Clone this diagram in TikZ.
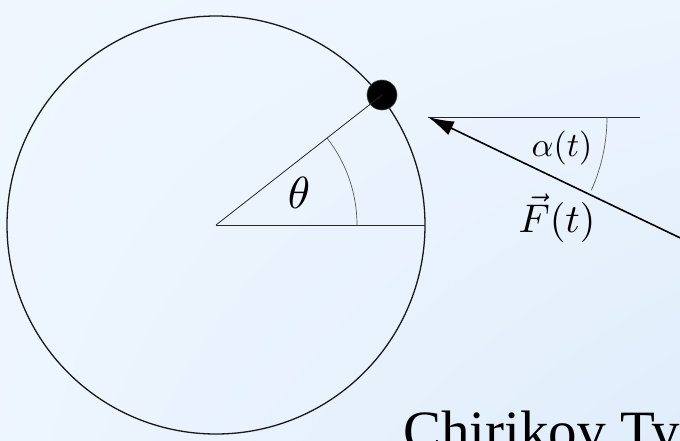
\documentclass[tikz,border=0pt]{standalone}
\usepackage{fontspec}
\newfontfamily\titlefont{Liberation Serif}
\usetikzlibrary{arrows.meta,shadings}
\definecolor{bgA}{HTML}{EFF6FE}
\definecolor{bgB}{HTML}{E0EDFB}
\tikzset{
  thinline/.style={line width=0.8pt, black!85},
  anglearc/.style={line width=0.7pt, black!65},
  ringline/.style={line width=1.3pt, black!90},
  forceline/.style={line width=1.6pt, black, -{Latex[length=26pt,width=15pt]}},
  massdot/.style={circle, fill=black, draw=black!70, line width=0.6pt, minimum size=30pt, inner sep=0pt},
  lbl/.style={inner sep=0pt}
}
\begin{document}
\begin{tikzpicture}[x=1pt,y=-1pt]
\useasboundingbox (0,0) rectangle (680,440);
\shade[upper left=bgA, upper right=bgA!80!bgB, lower left=bgA!90!bgB, lower right=bgB] (0,0) rectangle (680,440);
\coordinate (O) at (216,225);
\coordinate (R) at (425,225);
\coordinate (T) at (428,117);
\coordinate (H) at (640,117);
\coordinate (E) at (720,257);
\draw[ringline] (O) circle[radius=209];
\draw[thinline] (O) -- (R);
\draw[anglearc] ([shift={(0:141)}]O) arc[start angle=0, end angle=-38.07, radius=141];
\node[massdot] (P) at (382,95) {};
\draw[thinline] (O) -- (P.center);
\node[lbl, scale=4.5] (th) at (299,193) {$\theta$};
\draw[thinline] (T) -- (H);
\draw[anglearc] ([shift={(0:179)}]T) arc[start angle=0, end angle=24.15, radius=179];
\draw[forceline] (E) -- (T);
\node[lbl, scale=3.4] (al) at (562,148) {$\alpha(t)$};
\node[lbl, scale=4.0] (F) at (557,218) {$\vec{F}(t)$};
\node[lbl, anchor=base west, font=\titlefont\fontsize{57}{57}\selectfont] (title) at (403,450) {Chirikov Typ};
\end{tikzpicture}
\end{document}
